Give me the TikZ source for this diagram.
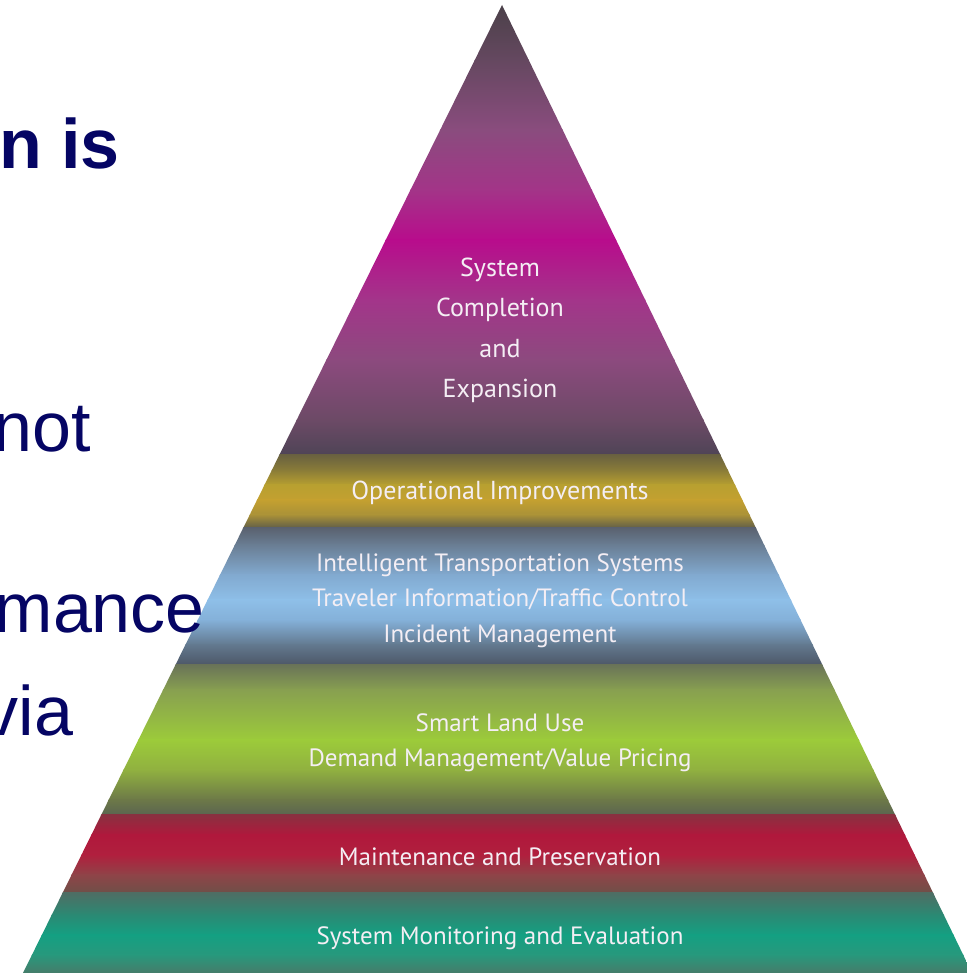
\documentclass[tikz,border=0pt]{standalone}
\usepackage{fontspec}
\setmainfont{Liberation Sans}
\newfontfamily\pyrfont{PT Sans}
\definecolor{navytxt}{RGB}{5,5,100}
\definecolor{pyrtext}{HTML}{F4EEF4}
% band 1
\definecolor{a1}{HTML}{4A4048}\definecolor{a2}{HTML}{654860}\definecolor{a3}{HTML}{8A4C7E}
\definecolor{a4}{HTML}{A33488}\definecolor{a5}{HTML}{B80C8C}\definecolor{a6}{HTML}{A3358A}
\definecolor{a7}{HTML}{8C4A7E}\definecolor{a8}{HTML}{6C4A66}\definecolor{a9}{HTML}{4E4456}
% band 2
\definecolor{b1}{HTML}{6A6240}\definecolor{b2}{HTML}{8A7C38}\definecolor{b3}{HTML}{B8A030}
\definecolor{b4}{HTML}{C4A030}\definecolor{b5}{HTML}{A89038}\definecolor{b6}{HTML}{5E5C48}
% band 3
\definecolor{c1}{HTML}{5A6270}\definecolor{c2}{HTML}{6A7E94}\definecolor{c3}{HTML}{82AAD0}
\definecolor{c4}{HTML}{8EBFE8}\definecolor{c5}{HTML}{84B0D8}\definecolor{c6}{HTML}{62788E}
\definecolor{c7}{HTML}{4C5666}
% band 4
\definecolor{d1}{HTML}{6A7458}\definecolor{d2}{HTML}{88A050}\definecolor{d3}{HTML}{9CCB3A}
\definecolor{d4}{HTML}{90B040}\definecolor{d5}{HTML}{6C7848}\definecolor{d6}{HTML}{5A6450}
% band 5
\definecolor{e1}{HTML}{8A3040}\definecolor{e2}{HTML}{B0183C}\definecolor{e3}{HTML}{B0203E}
\definecolor{e4}{HTML}{8E4448}\definecolor{e5}{HTML}{6E5048}
% band 6
\definecolor{f1}{HTML}{4E6E64}\definecolor{f2}{HTML}{2A8A74}\definecolor{f3}{HTML}{14A082}
\definecolor{f4}{HTML}{28987C}\definecolor{f5}{HTML}{4A7868}
% segment: from y=#1 (bottom, colour #3) to y=#2 (top, colour #4)
\newcommand\seg[4]{\shade[bottom color=#3,top color=#4] (0,{#1-0.6}) rectangle (990,#2);}
\begin{document}
\begin{tikzpicture}[x=1pt,y=1pt,
  pyr/.style={font=\pyrfont\fontsize{26}{30}\selectfont, text=pyrtext, inner sep=0pt, anchor=base},
  pyrs/.style={pyr, font=\pyrfont\fontsize{25}{30}\selectfont},
  lefttxt/.style={font=\fontsize{70}{80}\selectfont, text=navytxt, inner sep=0pt, anchor=base east}]
\useasboundingbox (0,0) rectangle (966,973);
\fill[white] (0,0) rectangle (966,973);
\coordinate (apex) at (502,968);
\coordinate (bl) at (23,0);
\coordinate (br) at (972,0);
\begin{scope}
  \clip (apex) -- (br) -- (bl) -- cycle;
  % band 1
  \seg{913}{970}{a2}{a1}
  \seg{843}{913}{a3}{a2}
  \seg{783}{843}{a4}{a3}
  \seg{733}{783}{a5}{a4}
  \seg{673}{733}{a6}{a5}
  \seg{613}{673}{a7}{a6}
  \seg{553}{613}{a8}{a7}
  \seg{518}{553}{a9}{a8}
  % band 2
  \seg{503}{518}{b2}{b1}
  \seg{488}{503}{b3}{b2}
  \seg{473}{488}{b4}{b3}
  \seg{458}{473}{b5}{b4}
  \seg{445}{458}{b6}{b5}
  % band 3
  \seg{428}{445}{c2}{c1}
  \seg{398}{428}{c3}{c2}
  \seg{373}{398}{c4}{c3}
  \seg{353}{373}{c5}{c4}
  \seg{328}{353}{c6}{c5}
  \seg{308}{328}{c7}{c6}
  % band 4
  \seg{283}{308}{d2}{d1}
  \seg{233}{283}{d3}{d2}
  \seg{203}{233}{d4}{d3}
  \seg{173}{203}{d5}{d4}
  \seg{158}{173}{d6}{d5}
  % band 5
  \seg{138}{158}{e2}{e1}
  \seg{118}{138}{e3}{e2}
  \seg{98}{118}{e4}{e3}
  \seg{80}{98}{e5}{e4}
  % band 6
  \seg{58}{80}{f2}{f1}
  \seg{38}{58}{f3}{f2}
  \seg{18}{38}{f4}{f3}
  \seg{-2}{18}{f5}{f4}
\end{scope}
% pyramid labels
\node[pyr] (t1) at (500,696) {System};
\node[pyr] (t2) at (500,656) {Completion};
\node[pyr] (t3) at (500,615) {and};
\node[pyr] (t4) at (500,575) {Expansion};
\node[pyr] (op) at (500,473) {Operational Improvements};
\node[pyrs] (its1) at (500,401) {Intelligent Transportation Systems};
\node[pyrs] (its2) at (500,366) {Traveler Information/Traffic Control};
\node[pyrs] (its3) at (500,330) {Incident Management};
\node[pyrs] (sl1) at (500,241) {Smart Land Use};
\node[pyrs] (sl2) at (500,206) {Demand Management/Value Pricing};
\node[pyrs] (mp) at (500,107) {Maintenance and Preservation};
\node[pyrs] (sm) at (500,28) {System Monitoring and Evaluation};
% left slide text (cut off at the left edge)
\node[lefttxt, font=\bfseries\fontsize{70}{80}\selectfont] (l1) at (120,804) {n is};
\node[lefttxt] (l2) at (91,521) {not};
\node[lefttxt] (l3) at (205,340) {mance};
\node[lefttxt] (l4) at (73.5,237) {via};
\end{tikzpicture}
\end{document}
